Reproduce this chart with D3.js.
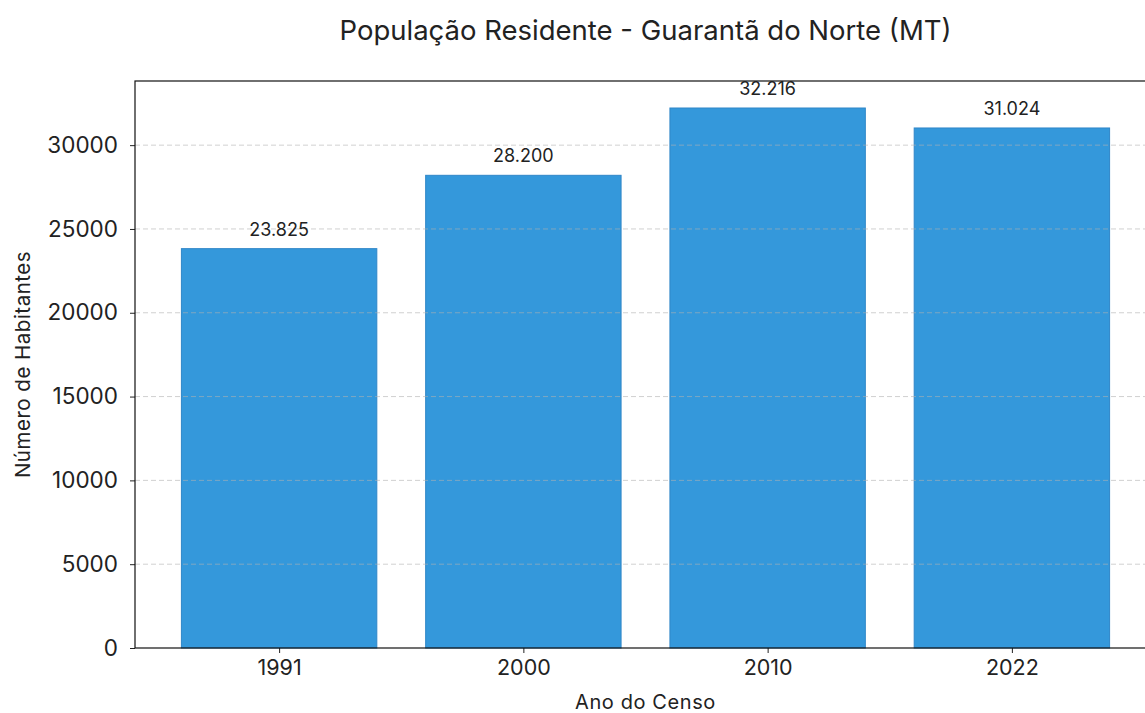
<!DOCTYPE html>
<html><head><meta charset="utf-8">
<script src="https://cdn.jsdelivr.net/npm/d3@7"></script>
<style>body{margin:0;background:#fff;overflow:hidden}text{font-family:Inter,"Open Sans",sans-serif;fill:#222}</style>
</head><body><svg id="c" width="1145" height="713"></svg>
<script>
const years = ["1991","2000","2010","2022"];
const population = [23825, 28200, 32216, 31024];
const labels = ["23.825","28.200","32.216","31.024"];
const yTicks = [0,5000,10000,15000,20000,25000,30000];

const svg = d3.select("#c");
const L=135, R=1156, T=81, B=648;
const n = years.length;
const x = d3.scaleLinear().domain([-0.59, n-1+0.59]).range([L,R]);
const y = d3.scaleLinear().domain([0, d3.max(population)*1.05]).range([B,T]);
const bw = x(0.8)-x(0);

svg.append("g").selectAll("rect").data(population).join("rect")
  .attr("x",(d,i)=>x(i)-bw/2).attr("width",bw)
  .attr("y",d=>y(d)).attr("height",d=>B-y(d))
  .attr("fill","#3498db").attr("stroke","#2f86c8").attr("stroke-width",1);

// grid
svg.append("g").selectAll("line").data(yTicks.filter(t=>t>0)).join("line")
  .attr("x1",L).attr("x2",R).attr("y1",d=>y(d)).attr("y2",d=>y(d))
  .attr("stroke","#b0b0b0").attr("stroke-opacity",0.6).attr("stroke-dasharray","5,3").attr("stroke-width",1);

// axes
const yAxis = d3.axisLeft(y).tickValues(yTicks).tickFormat(d=>String(d)).tickSize(5).tickPadding(12);
const gy = svg.append("g").attr("transform",`translate(${L},0)`).call(yAxis);
gy.select(".domain").remove();
gy.selectAll("text").style("font-size","22.5px").attr("fill","#222");
gy.selectAll("line").attr("stroke","#222");

const xAxis = d3.axisBottom(x).tickValues(d3.range(n)).tickFormat(i=>years[i]).tickSize(5).tickPadding(7);
const gx = svg.append("g").attr("transform",`translate(0,${B})`).call(xAxis);
gx.select(".domain").remove();
gx.selectAll("text").style("font-size","21.5px").attr("fill","#222");
gx.selectAll("line").attr("stroke","#222");

// spines
svg.append("rect").attr("x",L).attr("y",T).attr("width",R-L).attr("height",B-T)
  .attr("fill","none").attr("stroke","#111").attr("stroke-width",1.2);

// value labels
svg.append("g").selectAll("text").data(population).join("text")
  .attr("x",(d,i)=>x(i)).attr("y",d=>y(d)-13).attr("text-anchor","middle")
  .style("font-size","18px").text((d,i)=>labels[i]);

svg.append("text").attr("x",(L+R)/2).attr("y",40).attr("text-anchor","middle")
  .style("font-size","27.5px").text("População Residente - Guarantã do Norte (MT)");
svg.append("text").attr("x",(L+R)/2).attr("y",709).attr("text-anchor","middle")
  .style("font-size","20px").style("letter-spacing","0.6px").text("Ano do Censo");
svg.append("text").attr("transform",`translate(30,${(T+B)/2}) rotate(-90)`).attr("text-anchor","middle")
  .style("font-size","20.5px").style("letter-spacing","0.5px").text("Número de Habitantes");
</script></body></html>
